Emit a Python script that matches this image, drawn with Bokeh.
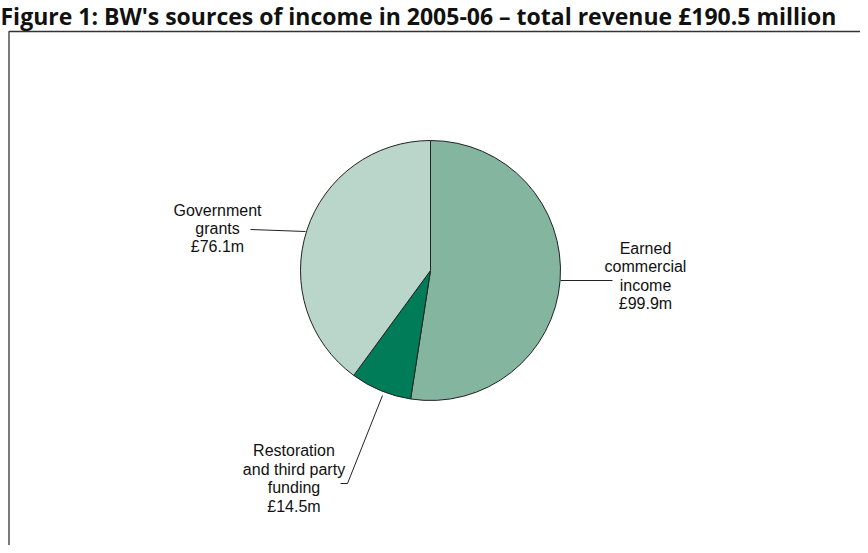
import math
from bokeh.plotting import figure
from bokeh.models import Range1d
from bokeh.core.properties import value
from bokeh.embed import file_html
from bokeh.resources import INLINE

# Data
categories = ["Earned commercial income", "Restoration and third party funding", "Government grants"]
amounts = [99.9, 14.5, 76.1]  # £m
label_texts = ["Earned\ncommercial\nincome\n£99.9m",
               "Restoration\nand third party\nfunding\n£14.5m",
               "Government\ngrants\n£76.1m"]
colors = ["#84b59f", "#007c58", "#bad6ca"]
title_text = "Figure 1: BW's sources of income in 2005-06 \u2013 total revenue £190.5 million"

W, H = 860, 545
p = figure(width=W, height=H, output_backend="svg", toolbar_location=None,
           x_range=Range1d(0, W), y_range=Range1d(0, H), min_border=0)
p.axis.visible = False
p.grid.visible = False
p.outline_line_color = None
p.background_fill_color = "white"
p.border_fill_color = "white"

# Pie geometry (screen-like coordinates: y measured from top)
cx, cy, r = 430, H - 270, 130
total = sum(amounts)
starts, ends = [], []
cum = 0.0
for a in amounts:
    starts.append(math.pi / 2 - 2 * math.pi * cum / total)
    cum += a
    ends.append(math.pi / 2 - 2 * math.pi * cum / total)

p.wedge(x=[cx] * 3, y=[cy] * 3, radius=r, start_angle=starts, end_angle=ends,
        direction="clock", fill_color=colors, line_color="#222222", line_width=1)

# Leader lines
p.line(x=[250, 305], y=[H - 229, H - 231], line_color="#222222", line_width=1)
p.line(x=[560, 612], y=[H - 280, H - 280], line_color="#222222", line_width=1)
p.line(x=[382, 347, 340], y=[H - 395, H - 483, H - 483], line_color="#222222", line_width=1)

# Labels
lx = [645, 293.5, 217]
ly = [H - 275.5, H - 478, H - 228]
p.text(x=lx, y=ly, text=label_texts, text_align="center", text_baseline="middle",
       text_font=value("Liberation Sans"), text_font_size="16px",
       text_line_height=1.08, text_color="#111111")

# Frame box
box_top = H - 31
p.line(x=[8.5, 8.5, W + 5], y=[-5, box_top, box_top], line_color="#333333", line_width=1.3)

# Title
p.text(x=[0], y=[H + 1], text=[title_text], text_align="left", text_baseline="top",
       text_font=value("Open Sans"), text_font_style="bold", text_font_size="23px",
       text_color="#111111")

open("out.html", "w").write(file_html(p, INLINE))
